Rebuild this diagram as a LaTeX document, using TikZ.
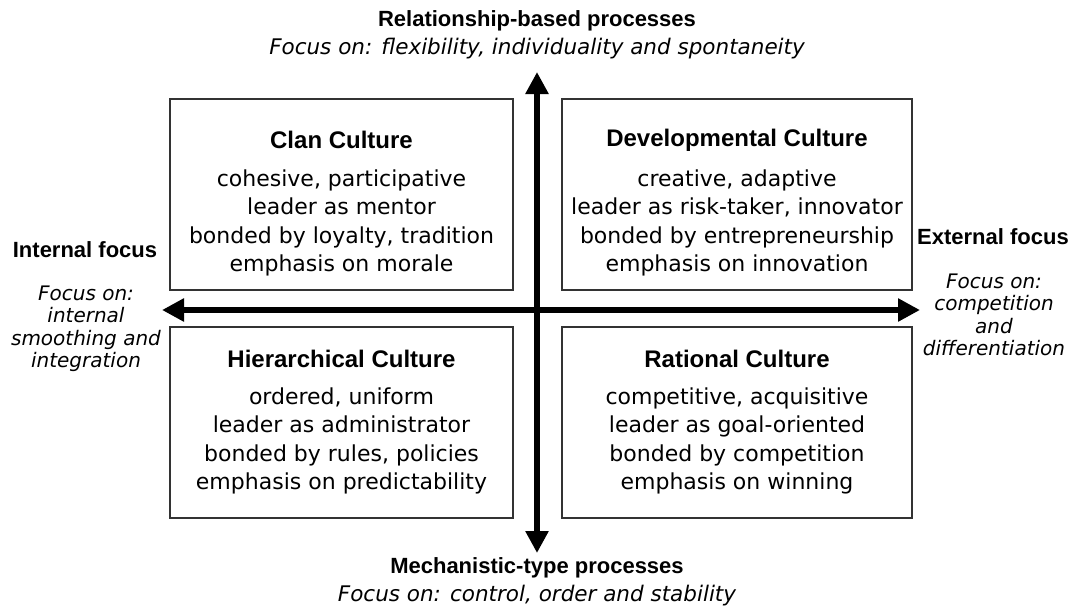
\documentclass[tikz,border=0pt]{standalone}
\usepackage{fontspec}
\setmainfont{DejaVu Sans}
\newfontfamily\headfont{Liberation Sans}
\usetikzlibrary{arrows.meta,positioning}

\begin{document}
\begin{tikzpicture}[
    x=1pt,y=-1pt,
    every node/.style={inner sep=0pt},
    culture/.style={draw=black!80,line width=1.4pt,minimum height=191pt},
    ctitle/.style={font=\headfont\bfseries\fontsize{24}{28}\selectfont},
    cbody/.style={font=\fontsize{22}{28.5}\selectfont,align=center},
    axislab/.style={font=\headfont\bfseries\fontsize{22}{26}\selectfont},
    focus/.style={font=\itshape\fontsize{21.5}{22.5}\selectfont,align=center},
    sidefocus/.style={font=\itshape\fontsize{20}{22.5}\selectfont,align=center},
    bigarr/.style={{Triangle[length=22pt,width=22pt]}-{Triangle[length=22pt,width=22pt]},line width=6pt}
  ]
  \useasboundingbox (0,0) rectangle (1075,611);
  %% Four culture quadrants
  \node[culture,minimum width=343pt] (clan) at (341.5,194.5) {};
  \node[culture,minimum width=350pt] (dev)  at (737,194.5)   {};
  \node[culture,minimum width=343pt] (hier) at (341.5,422.5) {};
  \node[culture,minimum width=350pt] (rat)  at (737,422.5)   {};
  \node[ctitle] (clanT) at (341.5,140) {Clan Culture};
  \node[cbody]  (clanB) at (341.5,223) {cohesive, participative\\leader as mentor\\bonded by loyalty, tradition\\emphasis on morale};
  \node[ctitle] (devT) at (737,140) {Developmental Culture};
  \node[cbody]  (devB) at (737,223) {creative, adaptive\\leader as risk-taker, innovator\\bonded by entrepreneurship\\emphasis on innovation};
  \node[ctitle] (hierT) at (341.5,359) {Hierarchical Culture};
  \node[cbody]  (hierB) at (341.5,441) {ordered, uniform\\leader as administrator\\bonded by rules, policies\\emphasis on predictability};
  \node[ctitle] (ratT) at (737,359) {Rational Culture};
  \node[cbody]  (ratB) at (737,441) {competitive, acquisitive\\leader as goal-oriented\\bonded by competition\\emphasis on winning};
  %% Axes
  \coordinate (north) at (537,72);
  \coordinate (south) at (537,553);
  \coordinate (west)  at (162,310);
  \coordinate (east)  at (920,310);
  \draw[bigarr] (south) -- (north);
  \draw[bigarr] (west) -- (east);
  %% Axis labels
  \node[axislab] (relT) at (537,21) {Relationship-based processes};
  \node[focus]   (relF) at (537,49) {Focus on: flexibility, individuality and spontaneity};
  \node[axislab] (mechT) at (537,568) {Mechanistic-type processes};
  \node[focus]   (mechF) at (537,596) {Focus on: control, order and stability};
  \node[axislab] (intT) at (85,250) {Internal focus};
  \node[sidefocus] (intF) at (86,329) {Focus on:\\internal\\smoothing and\\integration};
  \node[axislab] (extT) at (993,237) {External focus};
  \node[sidefocus] (extF) at (994,315) {Focus on:\\competition\\and\\differentiation};
\end{tikzpicture}
\end{document}
